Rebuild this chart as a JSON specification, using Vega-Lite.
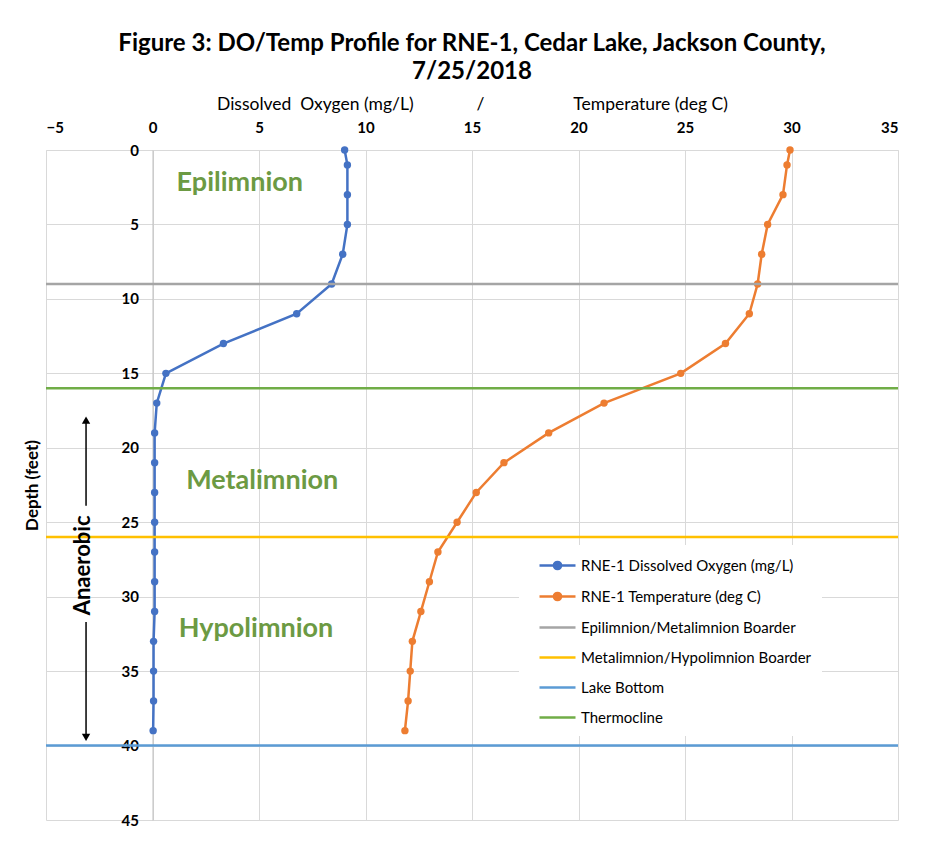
{
  "$schema": "https://vega.github.io/schema/vega-lite/v6.json",
  "width": 852,
  "height": 670,
  "autosize": "none",
  "padding": {"left": 46, "top": 150, "right": 45, "bottom": 30},
  "background": "white",
  "title": {
    "text": ["Figure 3: DO/Temp Profile for RNE-1, Cedar Lake, Jackson County,", "7/25/2018"],
    "font": "Lato",
    "fontSize": 24,
    "fontWeight": "bold",
    "color": "#000000",
    "anchor": "middle",
    "lineHeight": 28,
    "offset": 11
  },
  "datasets": {
    "profile": [
      {"series": "RNE-1 Dissolved Oxygen (mg/L)", "depth": 0, "v": 9.02},
      {"series": "RNE-1 Dissolved Oxygen (mg/L)", "depth": 1, "v": 9.15},
      {"series": "RNE-1 Dissolved Oxygen (mg/L)", "depth": 3, "v": 9.15},
      {"series": "RNE-1 Dissolved Oxygen (mg/L)", "depth": 5, "v": 9.15},
      {"series": "RNE-1 Dissolved Oxygen (mg/L)", "depth": 7, "v": 8.93},
      {"series": "RNE-1 Dissolved Oxygen (mg/L)", "depth": 9, "v": 8.41},
      {"series": "RNE-1 Dissolved Oxygen (mg/L)", "depth": 11, "v": 6.77},
      {"series": "RNE-1 Dissolved Oxygen (mg/L)", "depth": 13, "v": 3.33},
      {"series": "RNE-1 Dissolved Oxygen (mg/L)", "depth": 15, "v": 0.63},
      {"series": "RNE-1 Dissolved Oxygen (mg/L)", "depth": 17, "v": 0.2},
      {"series": "RNE-1 Dissolved Oxygen (mg/L)", "depth": 19, "v": 0.1},
      {"series": "RNE-1 Dissolved Oxygen (mg/L)", "depth": 21, "v": 0.1},
      {"series": "RNE-1 Dissolved Oxygen (mg/L)", "depth": 23, "v": 0.1},
      {"series": "RNE-1 Dissolved Oxygen (mg/L)", "depth": 25, "v": 0.1},
      {"series": "RNE-1 Dissolved Oxygen (mg/L)", "depth": 27, "v": 0.1},
      {"series": "RNE-1 Dissolved Oxygen (mg/L)", "depth": 29, "v": 0.1},
      {"series": "RNE-1 Dissolved Oxygen (mg/L)", "depth": 31, "v": 0.1},
      {"series": "RNE-1 Dissolved Oxygen (mg/L)", "depth": 33, "v": 0.05},
      {"series": "RNE-1 Dissolved Oxygen (mg/L)", "depth": 35, "v": 0.05},
      {"series": "RNE-1 Dissolved Oxygen (mg/L)", "depth": 37, "v": 0.05},
      {"series": "RNE-1 Dissolved Oxygen (mg/L)", "depth": 39, "v": 0.03},
      {"series": "RNE-1 Temperature (deg C)", "depth": 0, "v": 29.93},
      {"series": "RNE-1 Temperature (deg C)", "depth": 1, "v": 29.79},
      {"series": "RNE-1 Temperature (deg C)", "depth": 3, "v": 29.6},
      {"series": "RNE-1 Temperature (deg C)", "depth": 5, "v": 28.88},
      {"series": "RNE-1 Temperature (deg C)", "depth": 7, "v": 28.6},
      {"series": "RNE-1 Temperature (deg C)", "depth": 9, "v": 28.41},
      {"series": "RNE-1 Temperature (deg C)", "depth": 11, "v": 28.02},
      {"series": "RNE-1 Temperature (deg C)", "depth": 13, "v": 26.9},
      {"series": "RNE-1 Temperature (deg C)", "depth": 15, "v": 24.8},
      {"series": "RNE-1 Temperature (deg C)", "depth": 17, "v": 21.2},
      {"series": "RNE-1 Temperature (deg C)", "depth": 19, "v": 18.6},
      {"series": "RNE-1 Temperature (deg C)", "depth": 21, "v": 16.5},
      {"series": "RNE-1 Temperature (deg C)", "depth": 23, "v": 15.2},
      {"series": "RNE-1 Temperature (deg C)", "depth": 25, "v": 14.3},
      {"series": "RNE-1 Temperature (deg C)", "depth": 27, "v": 13.4},
      {"series": "RNE-1 Temperature (deg C)", "depth": 29, "v": 13.0},
      {"series": "RNE-1 Temperature (deg C)", "depth": 31, "v": 12.6},
      {"series": "RNE-1 Temperature (deg C)", "depth": 33, "v": 12.2},
      {"series": "RNE-1 Temperature (deg C)", "depth": 35, "v": 12.1},
      {"series": "RNE-1 Temperature (deg C)", "depth": 37, "v": 12.0},
      {"series": "RNE-1 Temperature (deg C)", "depth": 39, "v": 11.85}
    ],
    "borders": [
      {"series": "Epilimnion/Metalimnion Boarder", "depth": 9},
      {"series": "Metalimnion/Hypolimnion Boarder", "depth": 26},
      {"series": "Lake Bottom", "depth": 40},
      {"series": "Thermocline", "depth": 16}
    ],
    "zones": [
      {"label": "Epilimnion", "v": 4.1, "depth": 2.2},
      {"label": "Metalimnion", "v": 5.15, "depth": 22.2},
      {"label": "Hypolimnion", "v": 4.86, "depth": 32.2}
    ],
    "arrowLines": [
      {"v": -3.12, "depth": 18.2, "depth2": 23.9},
      {"v": -3.12, "depth": 31.7, "depth2": 39.3}
    ],
    "arrowHeads": [
      {"v": -3.12, "depth": 18.15, "dir": "triangle-up"},
      {"v": -3.12, "depth": 39.45, "dir": "triangle-down"}
    ],
    "anaerobic": [
      {"label": "Anaerobic", "v": -3.25, "depth": 27.9}
    ]
  },
  "layer": [
    {
      "data": {"name": "profile"},
      "mark": {"type": "line", "strokeWidth": 2.5, "clip": true},
      "encoding": {
        "x": {
          "field": "v", "type": "quantitative",
          "scale": {"domain": [-5, 35], "nice": false, "zero": false},
          "axis": {
            "orient": "top",
            "values": [-5, 0, 5, 10, 15, 20, 25, 30, 35],
            "title": "Dissolved\u00a0\u00a0Oxygen (mg/L)\u00a0\u00a0\u00a0\u00a0\u00a0\u00a0\u00a0\u00a0\u00a0\u00a0\u00a0\u00a0\u00a0\u00a0/\u00a0\u00a0\u00a0\u00a0\u00a0\u00a0\u00a0\u00a0\u00a0\u00a0\u00a0\u00a0\u00a0\u00a0\u00a0\u00a0\u00a0\u00a0\u00a0\u00a0Temperature (deg C)",
            "titleFont": "Lato", "titleFontSize": 17.5, "titleFontWeight": "normal", "titleColor": "#000000", "titlePadding": 7,
            "labelFont": "Lato", "labelFontSize": 15, "labelFontWeight": "bold", "labelColor": "#000000", "labelPadding": 15,
            "ticks": false, "domainColor": "#D9D9D9", "grid": true, "gridColor": "#D9D9D9"
          }
        },
        "y": {
          "field": "depth", "type": "quantitative",
          "scale": {"domain": [0, 45], "reverse": true, "nice": false},
          "axis": {
            "values": [0, 5, 10, 15, 20, 25, 30, 35, 40, 45],
            "offset": -106.5,
            "title": "Depth (feet)",
            "titleFont": "Lato", "titleFontSize": 17, "titleFontWeight": "bold", "titleColor": "#000000", "titlePadding": 80,
            "labelFont": "Lato", "labelFontSize": 15, "labelFontWeight": "bold", "labelColor": "#000000", "labelPadding": 14,
            "ticks": false, "domainColor": "#BFBFBF", "grid": true, "gridColor": "#D9D9D9"
          }
        },
        "color": {
          "field": "series", "type": "nominal",
          "scale": {
            "domain": ["RNE-1 Dissolved Oxygen (mg/L)", "RNE-1 Temperature (deg C)", "Epilimnion/Metalimnion Boarder", "Metalimnion/Hypolimnion Boarder", "Lake Bottom", "Thermocline"],
            "range": ["#4472C4", "#ED7D31", "#A5A5A5", "#FFC000", "#5B9BD5", "#70AD47"]
          },
          "legend": {
            "orient": "none", "legendX": 473, "legendY": 395,
            "title": null, "padding": 10, "fillColor": "white",
            "symbolSize": 324, "symbolStrokeWidth": 2.5, "labelOffset": 31, "rowPadding": 11,
            "labelFont": "Lato", "labelFontSize": 15, "labelColor": "#000000", "labelLimit": 400,
            "encode": {
              "symbols": {
                "update": {
                  "shape": {"signal": "indexof(datum.value, 'RNE-1') === 0 ? 'M0,0L4,0M1.6,0A0.4,0.4 0 1 1 2.4,0A0.4,0.4 0 1 1 1.6,0' : 'M0,0L4,0'"},
                  "fill": {"signal": "indexof(datum.value, 'RNE-1') === 0 ? scale('color', datum.value) : 'transparent'"},
                  "stroke": {"signal": "scale('color', datum.value)"},
                  "opacity": {"value": 1}
                }
              }
            }
          }
        },
        "order": {"field": "depth", "type": "quantitative"}
      }
    },
    {
      "data": {"name": "profile"},
      "mark": {"type": "point", "filled": true, "size": 55, "opacity": 1},
      "encoding": {
        "x": {"field": "v", "type": "quantitative"},
        "y": {"field": "depth", "type": "quantitative"},
        "color": {"field": "series", "type": "nominal"}
      }
    },
    {
      "data": {"name": "borders"},
      "mark": {"type": "rule", "strokeWidth": 2.5},
      "encoding": {
        "y": {"field": "depth", "type": "quantitative"},
        "color": {"field": "series", "type": "nominal"}
      }
    },
    {
      "data": {"name": "zones"},
      "mark": {"type": "text", "font": "Lato", "fontSize": 27, "fontWeight": "bold", "color": "#6C9A43", "align": "center", "baseline": "middle"},
      "encoding": {
        "x": {"field": "v", "type": "quantitative"},
        "y": {"field": "depth", "type": "quantitative"},
        "text": {"field": "label"}
      }
    },
    {
      "data": {"name": "arrowLines"},
      "mark": {"type": "rule", "strokeWidth": 1.5, "color": "#000000"},
      "encoding": {
        "x": {"field": "v", "type": "quantitative"},
        "y": {"field": "depth", "type": "quantitative"},
        "y2": {"field": "depth2"}
      }
    },
    {
      "data": {"name": "arrowHeads"},
      "mark": {"type": "point", "filled": true, "size": 70, "color": "#000000", "opacity": 1},
      "encoding": {
        "x": {"field": "v", "type": "quantitative"},
        "y": {"field": "depth", "type": "quantitative"},
        "shape": {"field": "dir", "type": "nominal", "scale": null}
      }
    },
    {
      "data": {"name": "anaerobic"},
      "mark": {"type": "text", "font": "Lato", "fontSize": 22, "fontWeight": "bold", "color": "#000000", "align": "center", "baseline": "middle", "angle": 270},
      "encoding": {
        "x": {"field": "v", "type": "quantitative"},
        "y": {"field": "depth", "type": "quantitative"},
        "text": {"field": "label"}
      }
    }
  ],
  "config": {
    "view": {"stroke": null},
    "font": "Lato"
  }
}
